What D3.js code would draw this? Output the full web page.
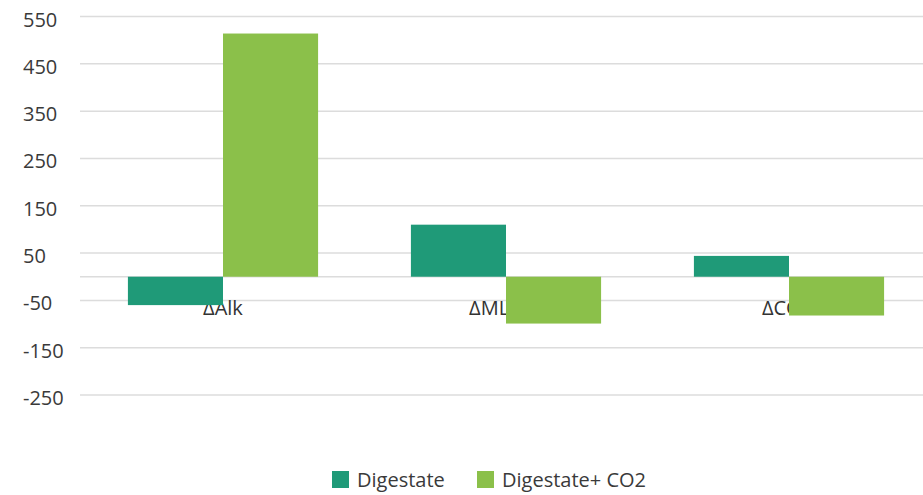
<!DOCTYPE html>
<html>
<head>
<meta charset="utf-8">
<script src="https://cdn.jsdelivr.net/npm/d3@7"></script>
<style>
  html, body { margin: 0; padding: 0; background: #ffffff; }
  svg { display: block; }
  text { font-family: "Open Sans", "Noto Sans", sans-serif; }
</style>
</head>
<body>
<svg id="chart" width="923" height="495"></svg>
<script>
const categories = ["ΔAlk", "ΔMLVSS", "ΔCOD"];
const seriesNames = ["Digestate", "Digestate+ CO2"];
const digestate = [-60, 110, 44];
const digestateCO2 = [514, -99, -82];
const tickValues = [550, 450, 350, 250, 150, 50, -50, -150, -250];
const colors = ["#1f9a78", "#8bc04a"];

const W = 923, H = 495;
const svg = d3.select("#chart");

const y = d3.scaleLinear().domain([-250, 550]).range([395, 16.5]);
const x0 = d3.scaleBand().domain(categories).range([81.5, 930.5]).padding(0);
const bw = x0.bandwidth();
const gap = 0.164;
const x1 = d3.scaleBand().domain(seriesNames).range([bw * gap, bw * (1 - gap)]).padding(0);

const seriesData = [digestate, digestateCO2];

// gridlines
const gridVals = tickValues.concat([0]);
svg.append("g").selectAll("line").data(gridVals).join("line")
  .attr("x1", 80).attr("x2", W)
  .attr("y1", d => y(d)).attr("y2", d => y(d))
  .attr("stroke", "#dcdcdc").attr("stroke-width", 1.5);

// y tick labels
svg.append("g").selectAll("text").data(tickValues).join("text")
  .attr("x", 23).attr("y", d => y(d) + 10)
  .attr("font-size", 20).attr("fill", "#3a3a3a")
  .text(d => d);

// category labels (drawn under bars)
svg.append("g").selectAll("text").data(categories).join("text")
  .attr("x", d => x0(d) + bw / 2).attr("y", 315)
  .attr("text-anchor", "middle")
  .attr("font-size", 20).attr("fill", "#333333")
  .text(d => d);

// bars
const groups = svg.append("g").selectAll("g").data(categories).join("g")
  .attr("transform", d => `translate(${x0(d)},0)`);
groups.selectAll("rect")
  .data((c, i) => seriesNames.map((s, j) => ({ s, v: seriesData[j][i], j })))
  .join("rect")
  .attr("x", d => x1(d.s))
  .attr("width", x1.bandwidth())
  .attr("y", d => y(Math.max(0, d.v)))
  .attr("height", d => Math.abs(y(d.v) - y(0)))
  .attr("fill", d => colors[d.j]);

// legend
const legendX = [332, 477];
const leg = svg.append("g").selectAll("g").data(seriesNames).join("g")
  .attr("transform", (d, i) => `translate(${legendX[i]},471)`);
leg.append("rect").attr("width", 17).attr("height", 17)
  .attr("fill", (d, i) => colors[i]);
leg.append("text").attr("x", 25).attr("y", 16)
  .attr("font-size", 20).attr("fill", "#3a3a3a")
  .text(d => d);
</script>
</body>
</html>
